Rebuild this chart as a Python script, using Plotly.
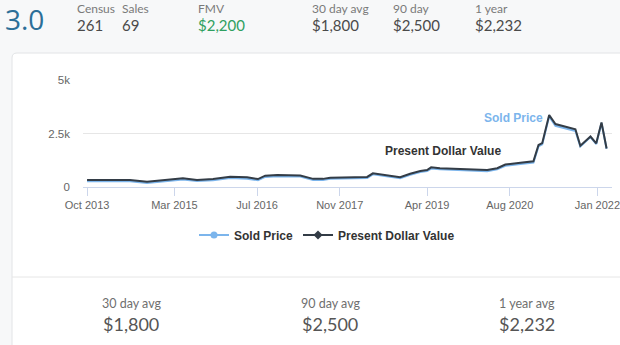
import plotly.graph_objects as go

# ---- data -------------------------------------------------------------
dates = [
    "2013-10-01", "2014-06-11", "2014-09-20", "2015-04-03", "2015-04-20",
    "2015-07-12", "2015-10-15", "2016-01-24", "2016-05-03", "2016-07-06",
    "2016-08-18", "2016-10-28", "2017-02-01", "2017-03-13", "2017-05-28",
    "2017-07-25", "2017-09-06", "2018-01-03", "2018-04-12", "2018-05-16",
    "2018-07-16", "2018-10-24", "2018-12-22", "2019-02-20", "2019-04-01",
    "2019-04-25", "2019-06-16", "2020-03-21", "2020-05-19", "2020-07-06",
    "2020-10-03", "2020-12-19", "2021-01-18", "2021-02-09", "2021-03-22",
    "2021-04-28", "2021-08-24", "2021-09-22", "2021-11-21", "2021-12-25",
    "2022-01-25", "2022-02-24",
]
present_dollar_value = [
    330, 330, 240, 370, 410, 330, 370, 480, 450, 370,
    530, 560, 560, 540, 380, 380, 430, 460, 470, 640,
    580, 460, 620, 750, 790, 920, 880, 790, 880, 1050,
    1130, 1200, 1960, 2050, 3360, 2940, 2700, 1930, 2360, 2040,
    3020, 1800,
]
sold_price = [
    270, 270, 190, 310, 350, 280, 310, 420, 390, 320,
    470, 500, 500, 490, 330, 330, 380, 410, 420, 590,
    530, 410, 570, 700, 740, 860, 830, 740, 830, 990,
    1070, 1140, 1900, 1990, 3300, 2860, 2620, 1890, 2330, 2010,
    2990, 1790,
]
tick_dates = ["2013-10-01", "2015-03-01", "2016-07-01", "2017-11-01",
              "2019-04-01", "2020-08-01", "2022-01-01"]
tick_labels = ["Oct 2013", "Mar 2015", "Jul 2016", "Nov 2017",
               "Apr 2019", "Aug 2020", "Jan 2022"]
y_ticks = [0, 2500, 5000]
y_tick_labels = ["0", "2.5k", "5k"]

header_items = [("Census", "261"), ("Sales", "69"), ("FMV", "$2,200"),
                ("30 day avg", "$1,800"), ("90 day", "$2,500"), ("1 year", "$2,232")]
header_x = [75, 120, 196, 310, 391, 473]
footer_items = [("30 day avg", "$1,800"), ("90 day avg", "$2,500"), ("1 year avg", "$2,232")]
footer_x = [131, 330, 527]

# ---- layout helpers ---------------------------------------------------
W, H = 620, 345
def px(x):
    return x / W
def py(y):
    return 1 - y / H

BLUE = "#7cb5ec"
DARK = "#333c46"
UI_FONT = "Lato"
CHART_FONT = "Liberation Sans"

fig = go.Figure()
fig.add_trace(go.Scatter(x=dates, y=sold_price, mode="lines", name="Sold Price",
                         line=dict(color=BLUE, width=2), showlegend=False,
                         hoverinfo="skip"))
fig.add_trace(go.Scatter(x=dates, y=present_dollar_value, mode="lines",
                         name="Present Dollar Value",
                         line=dict(color=DARK, width=2), showlegend=False,
                         hoverinfo="skip"))
# legend entries with point symbols
fig.add_trace(go.Scatter(x=[None], y=[None], mode="lines+markers", name="Sold Price",
                         line=dict(color=BLUE, width=2),
                         marker=dict(symbol="circle", size=7, color=BLUE)))
fig.add_trace(go.Scatter(x=[None], y=[None], mode="lines+markers",
                         name="Present Dollar Value",
                         line=dict(color=DARK, width=2),
                         marker=dict(symbol="diamond", size=7, color=DARK)))

shapes = [
    # white card
    dict(type="path", xref="paper", yref="paper", layer="below",
         path=(f"M {px(12)},{py(350)} L {px(12)},{py(58)} "
               f"Q {px(12)},{py(53)} {px(17)},{py(53)} "
               f"L {px(625)},{py(53)} L {px(625)},{py(350)} Z"),
         fillcolor="white", line=dict(color="#e2e4e6", width=1)),
    # divider above the averages
    dict(type="line", xref="paper", yref="paper", layer="below",
         x0=px(12), x1=px(620), y0=py(277), y1=py(277),
         line=dict(color="#e6e6e6", width=1)),
]

annotations = [
    dict(text="3.0", x=px(3), y=py(19), xref="paper", yref="paper",
         xanchor="left", yanchor="middle", showarrow=False,
         font=dict(family="Open Sans", size=28, color="#2b6f98")),
    dict(text="Present Dollar Value", x=px(443), y=py(151), xref="paper", yref="paper",
         xanchor="center", yanchor="middle", showarrow=False,
         font=dict(family=CHART_FONT, size=12, color="#333333", weight="bold")),
    dict(text="Sold Price", x=px(513), y=py(118), xref="paper", yref="paper",
         xanchor="center", yanchor="middle", showarrow=False,
         font=dict(family=CHART_FONT, size=12, color=BLUE, weight="bold")),
]
for (label, value), x in zip(header_items, header_x):
    annotations.append(dict(text=label, x=px(x), y=py(8), xref="paper", yref="paper",
                            xanchor="left", yanchor="middle", showarrow=False,
                            font=dict(family=UI_FONT, size=12, color="#7a7a7a")))
    annotations.append(dict(text=value, x=px(x), y=py(25), xref="paper", yref="paper",
                            xanchor="left", yanchor="middle", showarrow=False,
                            font=dict(family=UI_FONT, size=15,
                                      color="#2fa060" if label == "FMV" else "#4a4a4a")))
for (label, value), x in zip(footer_items, footer_x):
    annotations.append(dict(text=label, x=px(x), y=py(303), xref="paper", yref="paper",
                            xanchor="center", yanchor="middle", showarrow=False,
                            font=dict(family=UI_FONT, size=12.5, color="#6f6f6f")))
    annotations.append(dict(text=value, x=px(x), y=py(324), xref="paper", yref="paper",
                            xanchor="center", yanchor="middle", showarrow=False,
                            font=dict(family=UI_FONT, size=18, color="#555555")))

fig.update_layout(
    width=W, height=H,
    margin=dict(l=0, r=0, t=0, b=0, autoexpand=False),
    paper_bgcolor="#f7f8f9",
    plot_bgcolor="rgba(0,0,0,0)",
    shapes=shapes,
    annotations=annotations,
    showlegend=True,
    legend=dict(orientation="h", x=px(327), xanchor="center", y=py(235),
                yanchor="middle", bgcolor="rgba(0,0,0,0)",
                font=dict(family=CHART_FONT, size=12, color="#333333",
                          weight="bold"),
                itemwidth=30),
    xaxis=dict(domain=[px(83), px(612)], type="date", automargin=False,
               range=["2013-09-07", "2022-03-28"],
               tickvals=tick_dates, ticktext=tick_labels,
               showgrid=False, zeroline=False,
               showline=True, linecolor="#ccd6eb", linewidth=1,
               ticks="outside", ticklen=8, tickcolor="#ccd6eb",
               ticklabeloverflow="allow",
               tickfont=dict(family=CHART_FONT, size=11, color="#666666")),
    yaxis=dict(domain=[py(187), py(80)], range=[0, 5000], automargin=False,
               tickvals=y_ticks, ticktext=y_tick_labels,
               showgrid=True, gridcolor="#e6e6e6", gridwidth=1,
               zeroline=False, showline=False, ticks="",
               ticklabelstandoff=12,
               tickfont=dict(family=CHART_FONT, size=11.5, color="#666666")),
)

fig.write_html("out.html")
